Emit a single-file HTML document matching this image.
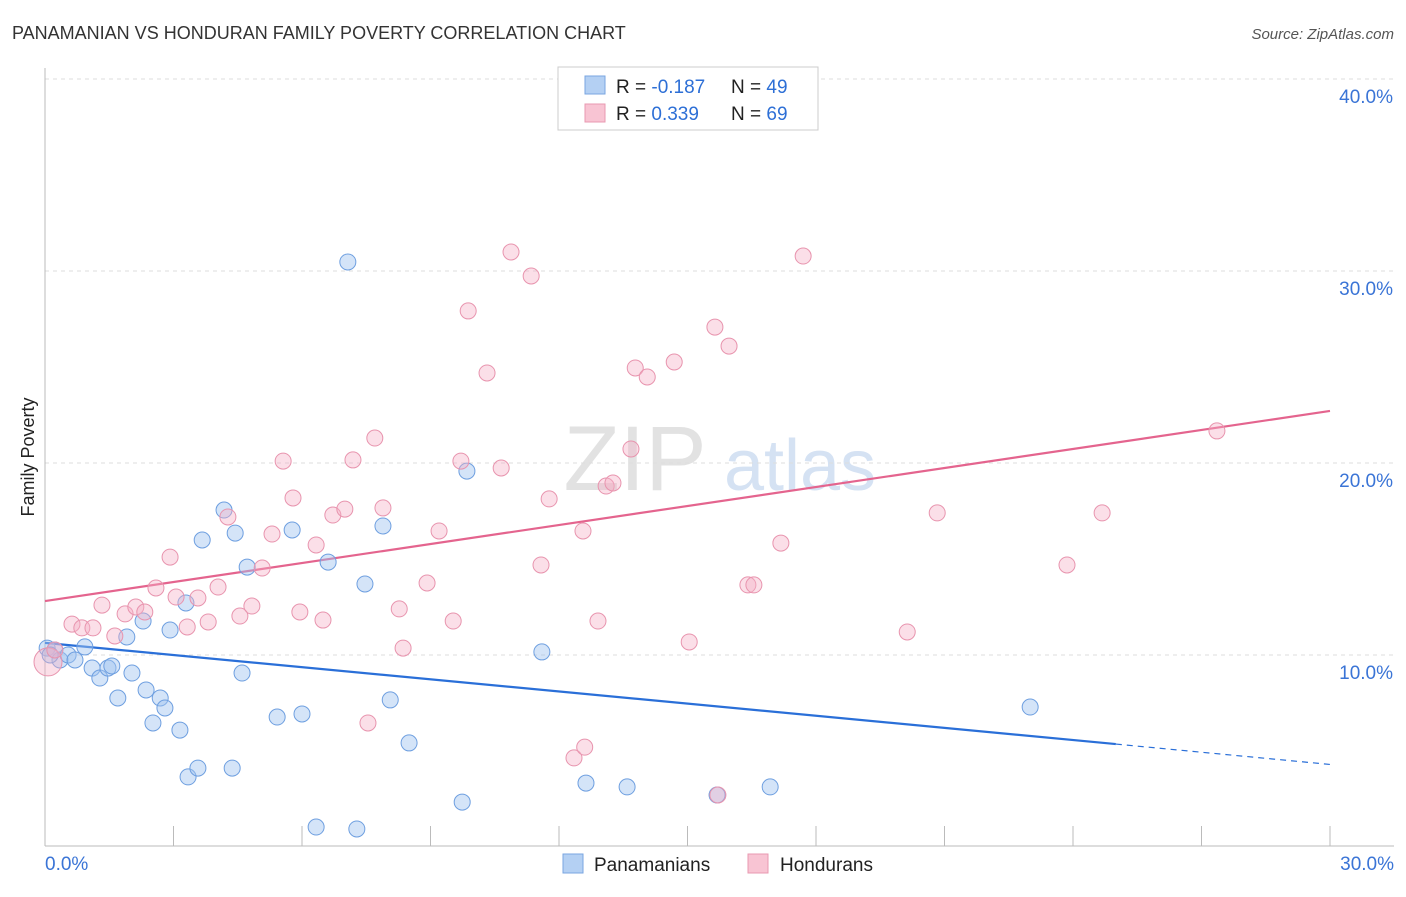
<!DOCTYPE html>
<html><head><meta charset="utf-8">
<style>
body{margin:0;background:#fff;font-family:"Liberation Sans",sans-serif;}
svg text{font-family:"Liberation Sans",sans-serif;}
</style></head>
<body>
<svg id="chart" width="1406" height="892" xmlns="http://www.w3.org/2000/svg">
<text x="12" y="39" font-size="18" fill="#333">PANAMANIAN VS HONDURAN FAMILY POVERTY CORRELATION CHART</text>
<text x="1394" y="39" font-size="15" fill="#555" text-anchor="end" font-style="italic">Source: ZipAtlas.com</text>
<text x="34" y="457" font-size="18" fill="#222" text-anchor="middle" transform="rotate(-90 34 457)">Family Poverty</text>
<g>
<text x="635" y="490" font-size="92" fill="#e2e2e2" text-anchor="middle" font-family="Liberation Serif">ZIP</text>
<text x="800" y="490" font-size="72" fill="#d5e2f3" text-anchor="middle">atlas</text>
</g>
<g id="grid"></g>
<g id="axes"></g>
<g id="lines"></g>
<g id="points"></g>
<g>
<rect x="558" y="67" width="260" height="63" fill="#fff" stroke="#ccc"/>
<rect x="585" y="76" width="20" height="18" fill="#b4d0f3" stroke="#7aa6e0"/>
<rect x="585" y="104" width="20" height="18" fill="#f8c4d3" stroke="#e899b0"/>
<text x="616" y="93" font-size="19" fill="#222">R = <tspan fill="#2d6fd6">-0.187</tspan></text>
<text x="731" y="93" font-size="19" fill="#222">N = <tspan fill="#2d6fd6">49</tspan></text>
<text x="616" y="120" font-size="19" fill="#222">R = <tspan fill="#2d6fd6"> 0.339</tspan></text>
<text x="731" y="120" font-size="19" fill="#222">N = <tspan fill="#2d6fd6">69</tspan></text>
</g>
<g>
<rect x="563" y="854" width="20" height="19" fill="#b4d0f3" stroke="#7aa6e0"/>
<text x="594" y="871" font-size="19" fill="#222">Panamanians</text>
<rect x="748" y="854" width="20" height="19" fill="#f8c4d3" stroke="#e899b0"/>
<text x="780" y="871" font-size="19" fill="#222">Hondurans</text>
</g>
</svg>
<script>
const yTicks=[10,20,30,40];
const yTickLabels=["10.0%","20.0%","30.0%","40.0%"];
const xTickCount=10;
const blueX=[0.05,0.23,0.35,0.54,0.7,0.93,1.1,1.28,1.47,1.56,1.7,1.91,2.03,2.29,2.36,2.52,2.69,2.8,2.92,3.15,3.29,3.34,3.57,3.67,4.18,4.37,4.44,4.6,4.72,5.42,5.77,6.0,6.33,6.61,7.07,7.28,7.47,7.89,8.06,8.5,9.74,9.85,11.6,12.63,13.59,15.69,16.93,23.0,0.12];
const blueY=[10.36,10.26,9.74,10.0,9.74,10.42,9.32,8.8,9.32,9.43,7.76,10.94,9.06,11.77,8.18,6.46,7.76,7.24,11.3,6.09,12.71,3.65,4.11,15.99,17.55,4.11,16.35,9.06,14.58,6.77,16.51,6.93,1.04,14.84,30.47,0.94,13.7,16.72,7.66,5.42,2.34,19.58,10.16,3.33,3.13,2.71,3.13,7.29,10.0];
const pinkX=[0.07,0.23,0.63,0.86,1.12,1.33,1.63,1.87,2.12,2.33,2.59,2.92,3.06,3.32,3.57,3.81,4.04,4.27,4.55,4.83,5.07,5.3,5.56,5.79,5.95,6.33,6.49,6.72,7.0,7.19,7.54,7.7,7.89,8.27,8.36,8.92,9.2,9.53,9.71,9.88,10.32,10.65,10.88,11.35,11.58,11.77,12.35,12.6,12.56,12.91,13.1,13.26,13.68,13.78,14.06,14.69,15.04,15.64,15.71,15.97,16.41,16.55,17.18,17.7,20.13,20.83,23.86,24.68,27.36];
const pinkY=[9.64,10.26,11.61,11.41,11.41,12.6,10.99,12.14,12.5,12.24,13.49,15.1,13.02,11.46,12.97,11.72,13.54,17.19,12.03,12.55,14.53,16.3,20.1,18.18,12.24,15.73,11.82,17.29,17.6,20.16,6.46,21.3,17.66,12.4,10.36,13.75,16.46,11.77,20.1,27.92,24.69,19.74,30.99,29.74,14.69,18.13,4.64,5.2,16.46,11.77,18.8,18.96,20.73,24.95,24.48,25.26,10.68,27.08,2.71,26.09,13.65,13.65,15.83,30.78,11.2,17.4,14.69,17.4,21.67];
const blueTrend=[10.63,5.36,4.3]; // at x=0, x=25, x=30
const pinkTrend=[12.81,22.71]; // at x=0, x=30

const X=v=>45+v*1285/30;
const Y=v=>847-v*19.2;
const NS="http://www.w3.org/2000/svg";
function mk(tag,attrs,parent){const e=document.createElementNS(NS,tag);for(const k in attrs)e.setAttribute(k,attrs[k]);document.getElementById(parent).appendChild(e);return e;}

yTicks.forEach((t,i)=>{
  const l=mk('line',{x1:45,x2:1394,y1:Y(t),y2:Y(t),stroke:'#ddd','stroke-dasharray':'4,4'},'grid');
  
  
  const tx=mk('text',{x:1393,y:Y(t)+24,'font-size':19,fill:'#3a74d6','text-anchor':'end'},'axes');
  tx.textContent=yTickLabels[i];
  
  
});
const ax=mk('line',{x1:45,x2:45,y1:68,y2:846,stroke:'#bbb'},'axes');


const bx=mk('line',{x1:45,x2:1394,y1:846,y2:846,stroke:'#bbb'},'axes');


for(let i=0;i<=xTickCount;i++){
  const t=mk('line',{x1:X(i*3),x2:X(i*3),y1:826,y2:846,stroke:'#bbb'},'axes');
  
  
}
const x0=mk('text',{x:45,y:870,'font-size':19,fill:'#3a74d6'},'axes');x0.textContent='0.0%';


const x1=mk('text',{x:1394,y:870,'font-size':19,fill:'#3a74d6','text-anchor':'end'},'axes');x1.textContent='30.0%';



blueX.forEach((x,i)=>{
  const c=mk('circle',{cx:X(x),cy:Y(blueY[i]),r:8,fill:'rgba(160,195,240,0.45)',stroke:'#6e9fe0','stroke-width':1},'points');
  
  
});
pinkX.forEach((x,i)=>{
  const c=mk('circle',{cx:X(x),cy:Y(pinkY[i]),r:i===0?14:8,fill:'rgba(245,175,198,0.4)',stroke:'#e894ae','stroke-width':1},'points');
  
  
});
const bl=mk('line',{x1:X(0),y1:Y(blueTrend[0]),x2:X(25),y2:Y(blueTrend[1]),stroke:'#2a6fd8','stroke-width':2.2},'lines');


const bd=mk('line',{x1:X(25),y1:Y(blueTrend[1]),x2:X(30),y2:Y(blueTrend[2]),stroke:'#2a6fd8','stroke-width':1.2,'stroke-dasharray':'6,5'},'lines');


const pl=mk('line',{x1:X(0),y1:Y(pinkTrend[0]),x2:X(30),y2:Y(pinkTrend[1]),stroke:'#e4648e','stroke-width':2.2},'lines');


</script>
</body></html>
